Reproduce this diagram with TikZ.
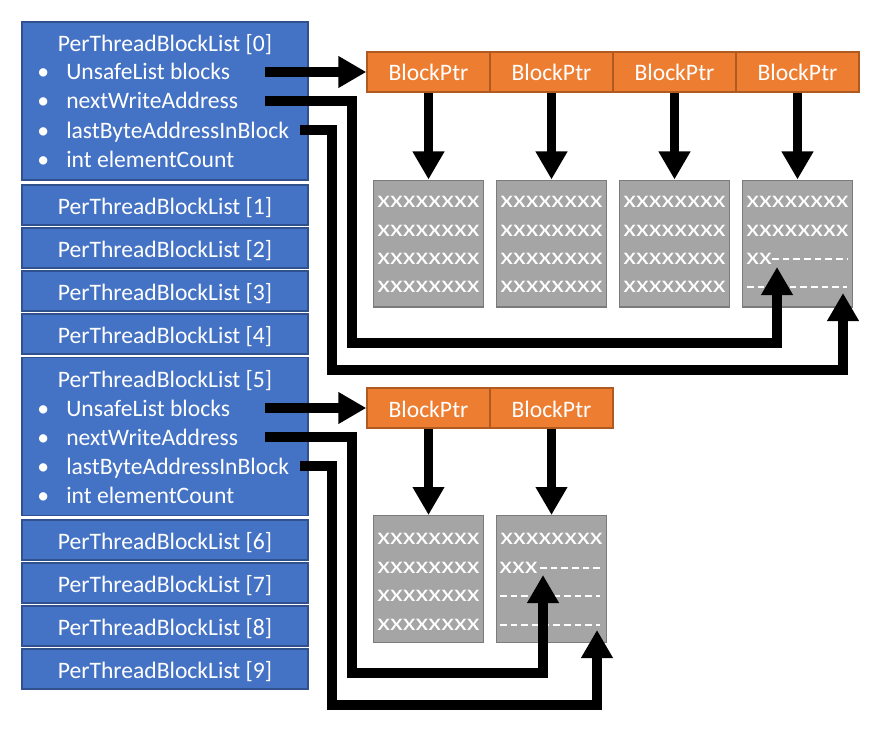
\documentclass[tikz,border=0pt]{standalone}
\usepackage{fontspec}
\setmainfont{Carlito}
\newfontfamily\cellfont[FakeStretch=1.25]{Carlito}
\usetikzlibrary{arrows.meta}

\definecolor{listblue}{HTML}{4472C4}
\definecolor{listedge}{HTML}{2F528F}
\definecolor{ptrorange}{HTML}{ED7D31}
\definecolor{ptredge}{HTML}{AE5A21}
\definecolor{blkgray}{HTML}{A5A5A5}
\definecolor{blkedge}{HTML}{7B7B7B}

\newcommand\diagsize{\fontsize{17.7}{21}\selectfont}
\newcommand\blt{\llap{\makebox[0pt]{•}\hspace{17.25pt}}}

\tikzset{
  ptbl/.style={draw=listedge,fill=listblue,line width=1pt,
    minimum width=214.5pt,inner sep=0pt,text=white,
    text height=13.5pt,text depth=0pt},
  fld/.style={anchor=base west,inner sep=0pt,text=white},
  bptr/.style={draw=ptredge,fill=ptrorange,line width=1pt,
    minimum width=92.25pt,minimum height=30pt,inner sep=0pt,text=white,
    text height=13.5pt,text depth=0pt},
  mblk/.style={draw=blkedge,fill=blkgray,line width=1pt,
    minimum width=82.5pt,minimum height=95pt,inner sep=0pt},
  xrow/.style={inner sep=0pt,text=white,font=\cellfont\diagsize},
  free/.style={white,line width=1.5pt,dash pattern=on 5pt off 3pt},
  ptr/.style={line width=7pt,-{Triangle[length=21pt,width=22.5pt]}},
}

\begin{document}
\begin{tikzpicture}[x=0.75pt,y=-0.75pt,font=\diagsize]
  \useasboundingbox (0,0) rectangle (877,731);

  % thread block lists
  \node[ptbl,minimum height=118.5pt] (l0) at (165,101) {};
  \node[fld,anchor=base] (t0) at (165,52) {PerThreadBlockList [0]};
  \node[fld] (f0a) at (66,80) {\blt UnsafeList blocks};
  \node[fld] (f0b) at (66,109) {\blt nextWriteAddress};
  \node[fld] (f0c) at (66,138) {\blt lastByteAddressInBlock};
  \node[fld] (f0d) at (66,167) {\blt int elementCount};
  \node[ptbl,minimum height=30pt] (l1) at (165,205) {PerThreadBlockList [1]};
  \node[ptbl,minimum height=30pt] (l2) at (165,248) {PerThreadBlockList [2]};
  \node[ptbl,minimum height=30pt] (l3) at (165,291) {PerThreadBlockList [3]};
  \node[ptbl,minimum height=30pt] (l4) at (165,334) {PerThreadBlockList [4]};
  \node[ptbl,minimum height=118.5pt] (l5) at (165,436.5) {};
  \node[fld,anchor=base] (t5) at (165,387) {PerThreadBlockList [5]};
  \node[fld] (f5a) at (66,416) {\blt UnsafeList blocks};
  \node[fld] (f5b) at (66,445) {\blt nextWriteAddress};
  \node[fld] (f5c) at (66,474) {\blt lastByteAddressInBlock};
  \node[fld] (f5d) at (66,503) {\blt int elementCount};
  \node[ptbl,minimum height=30pt] (l6) at (165,540) {PerThreadBlockList [6]};
  \node[ptbl,minimum height=30pt] (l7) at (165,583) {PerThreadBlockList [7]};
  \node[ptbl,minimum height=30pt] (l8) at (165,626) {PerThreadBlockList [8]};
  \node[ptbl,minimum height=30pt] (l9) at (165,669) {PerThreadBlockList [9]};

  % block pointers
  \node[bptr] (p0a) at (428.5,72) {BlockPtr};
  \node[bptr] (p0b) at (551.5,72) {BlockPtr};
  \node[bptr] (p0c) at (674.5,72) {BlockPtr};
  \node[bptr] (p0d) at (797.5,72) {BlockPtr};
  \node[bptr] (p5a) at (428.5,408) {BlockPtr};
  \node[bptr] (p5b) at (551.5,408) {BlockPtr};

  % memory blocks
  \node[mblk] (m0a) at (428.5,243.5) {};
  \node[mblk] (m0b) at (551.5,243.5) {};
  \node[mblk] (m0c) at (674.5,243.5) {};
  \node[mblk] (m0d) at (797.5,243.5) {};
  \node[mblk] (m5a) at (428.5,579) {};
  \node[mblk] (m5b) at (551.5,579) {};

  \foreach \c/\x in {a/428.5,b/551.5,c/674.5}
    \foreach \y [count=\r] in {202,231,259,287}
      \node[xrow] (x0\c\r) at (\x,\y) {xxxxxxxx};
  \node[xrow] (x0d1) at (797.5,202) {xxxxxxxx};
  \node[xrow] (x0d2) at (797.5,231) {xxxxxxxx};
  \node[xrow,anchor=west] (x0d3) at (746,259) {xx};
  \draw[free] (772,259) -- (847,259);
  \draw[free] (747,287) -- (847,287);

  \foreach \y [count=\r] in {539,568,596,625}
    \node[xrow] (x5a\r) at (428.5,\y) {xxxxxxxx};
  \node[xrow] (x5b1) at (551.5,539) {xxxxxxxx};
  \node[xrow,anchor=west] (x5b2) at (499,568) {xxx};
  \draw[free] (540,568) -- (600,568);
  \draw[free] (500,596) -- (600,596);
  \draw[free] (500,625) -- (600,625);

  % pointers
  \coordinate (s0a) at (265,72);
  \coordinate (s0b) at (265,101);
  \coordinate (s0c) at (300,130);
  \coordinate (e0b) at (777,267);
  \coordinate (e0c) at (843,293);
  \coordinate (s5a) at (265,408);
  \coordinate (s5b) at (265,437);
  \coordinate (s5c) at (300,466);
  \coordinate (e5b) at (543,575);
  \coordinate (e5c) at (597,630);

  \draw[ptr] (s0a) -- (p0a);
  \draw[ptr] (p0a) -- (m0a);
  \draw[ptr] (p0b) -- (m0b);
  \draw[ptr] (p0c) -- (m0c);
  \draw[ptr] (p0d) -- (m0d);
  \draw[ptr] (s0b) -| (352,343) -| (e0b);
  \draw[ptr] (s0c) -| (332,370) -| (e0c);

  \draw[ptr] (s5a) -- (p5a);
  \draw[ptr] (p5a) -- (m5a);
  \draw[ptr] (p5b) -- (m5b);
  \draw[ptr] (s5b) -| (352,673) -| (e5b);
  \draw[ptr] (s5c) -| (332,705) -| (e5c);
\end{tikzpicture}
\end{document}
